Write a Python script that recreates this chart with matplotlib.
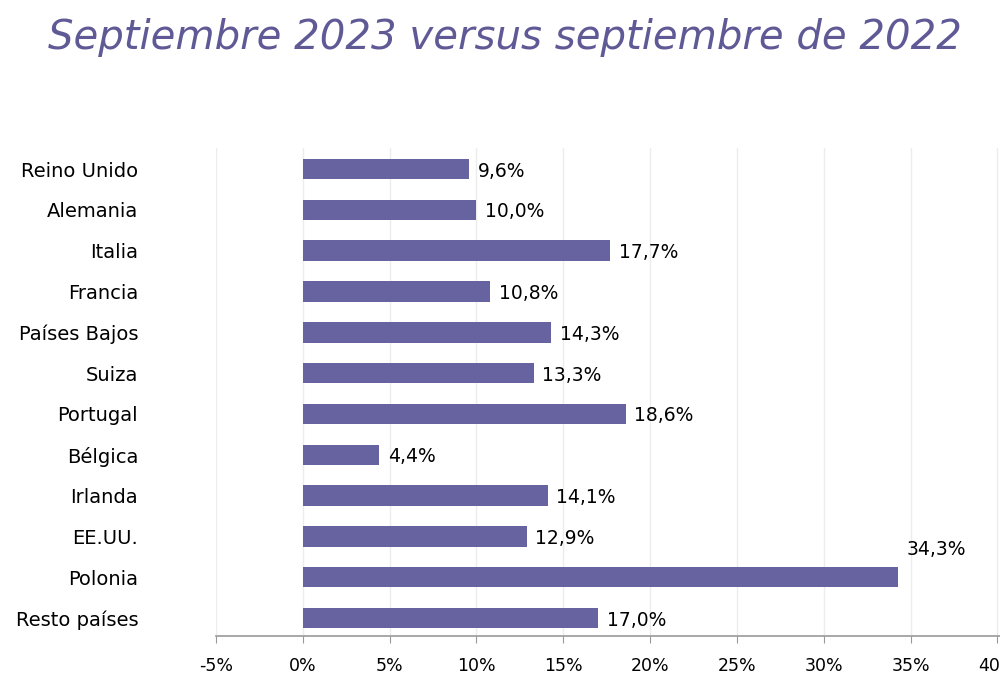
import matplotlib.pyplot as plt

paises = ["Reino Unido", "Alemania", "Italia", "Francia", "Países Bajos", "Suiza",
          "Portugal", "Bélgica", "Irlanda", "EE.UU.", "Polonia", "Resto países"]
valores = [9.6, 10.0, 17.7, 10.8, 14.3, 13.3, 18.6, 4.4, 14.1, 12.9, 34.3, 17.0]
ticks = [-5, 0, 5, 10, 15, 20, 25, 30, 35, 40]

color_barra = "#6762a0"
color_titulo = "#5f5a96"

fig = plt.figure(figsize=(10, 6.86), dpi=100)
fig.text(0.505, 0.945, "Septiembre 2023 versus septiembre de 2022", ha="center", va="center",
         fontsize=29, style="italic", color=color_titulo)

ax = fig.add_axes([0.216, 0.0729, 0.79, 0.711])
pos = list(range(len(paises)))
ax.barh(pos, valores, height=0.5, color=color_barra, zorder=3)

for i, v in enumerate(valores):
    txt = f"{v:.1f}%".replace(".", ",")
    if v > 30:
        ax.text(v + 2.2, i - 0.68, txt, va="center", ha="center", fontsize=13.5)
    else:
        ax.text(v + 0.5, i + 0.05, txt, va="center", ha="left", fontsize=13.5)

ax.set_xlim(-5, 40.5)
ax.set_ylim(11.44, -0.51)
ax.set_xticks(ticks)
ax.set_xticklabels([f"{t}%" for t in ticks], fontsize=12.5)
ax.set_yticks(pos)
ax.set_yticklabels(paises, fontsize=14)
ax.tick_params(axis="y", length=0, pad=56)
ax.tick_params(axis="x", length=5, color="#999999", pad=10)
ax.grid(axis="x", color="#ececec", linewidth=1, zorder=0)
for s in ["top", "right", "left"]:
    ax.spines[s].set_visible(False)
ax.spines["bottom"].set_color("#999999")
ax.spines["bottom"].set_linewidth(1.2)

fig.savefig("out.png", dpi=100)
